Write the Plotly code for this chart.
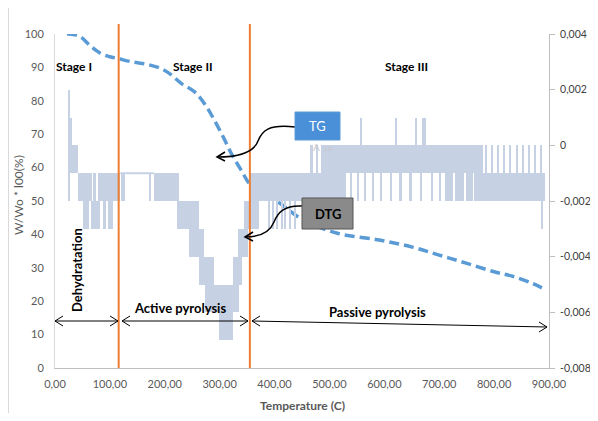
import plotly.graph_objects as go

# ---------------- data ----------------
# TG curve (temperature in C, residual mass W/Wo*100 in %)
tg_T = [22, 30, 45, 64, 82, 100, 116, 142, 165, 191, 210, 230, 255, 275, 291, 307, 322,
        340, 355, 380, 409, 450, 513, 591, 651, 700, 749, 800, 833, 870, 894]
tg_W = [100, 99.9, 99.3, 96.5, 94.3, 93.2, 92.6, 91.6, 91, 89.8, 88, 85.2, 82.6, 78.5, 74,
        69, 64, 59, 55, 52, 49.4, 44.5, 40.4, 38.3, 36.2, 33.8, 31.4, 28.8, 27.5, 25.3, 23.4]

# DTG bands (the noisy DTG signal oscillates between two quantised levels)
band_T0 = [24, 27, 42, 70, 78, 51, 66, 87, 97, 121,
           180, 222, 245, 262, 273, 298, 318, 325, 333, 345,
           356, 356, 464, 475, 485, 455, 710, 729, 749, 764, 782]
band_T1 = [42, 31, 67, 75, 119, 62, 82, 93, 106, 128,
           225, 262, 272, 290, 318, 325, 336, 340, 352, 356,
           372, 455, 470, 480, 780, 530, 726, 746, 761, 782, 893]
band_lo = [-0.001, 0.000, -0.002, -0.002, -0.002, -0.003, -0.003, -0.003, -0.003, -0.002,
           -0.002, -0.003, -0.004, -0.005, -0.006, -0.007, -0.006, -0.005, -0.004, -0.003,
           -0.003, -0.002, -0.001, -0.001, -0.001, -0.002, -0.002, -0.002, -0.002, -0.002, -0.002]
band_hi = [0.000, 0.001, -0.001, -0.001, -0.001, -0.002, -0.002, -0.002, -0.002, -0.001,
           -0.001, -0.002, -0.003, -0.004, -0.005, -0.006, -0.005, -0.004, -0.003, -0.002,
           -0.002, -0.001, 0.000, 0.000, 0.000, -0.001, -0.001, -0.001, -0.001, -0.001, -0.001]

# DTG single excursions (narrow spikes)
spike_T = [26, 125, 173, 390, 398, 405, 413, 420, 428, 437,
           540, 553, 566, 580, 595, 612, 630, 648, 668, 688, 702,
           785, 796, 807, 818, 829, 841, 852, 863, 874, 885,
           558, 622, 658, 670, 675, 888]
spike_lo = [-0.002, -0.002, -0.002, -0.003, -0.003, -0.003, -0.003, -0.003, -0.003, -0.003,
            -0.002, -0.002, -0.002, -0.002, -0.002, -0.002, -0.002, -0.002, -0.002, -0.002, -0.002,
            -0.001, -0.001, -0.001, -0.001, -0.001, -0.001, -0.001, -0.001, -0.001, -0.001,
            0.000, 0.000, 0.000, 0.000, 0.000, -0.003]
spike_hi = [0.002, -0.001, -0.001, -0.002, -0.002, -0.002, -0.002, -0.002, -0.002, -0.002,
            -0.001, -0.001, -0.001, -0.001, -0.001, -0.001, -0.001, -0.001, -0.001, -0.001, -0.001,
            0.000, 0.000, 0.000, 0.000, 0.000, 0.000, 0.000, 0.000, 0.000, 0.000,
            0.001, 0.001, 0.001, 0.001, 0.001, -0.001]
spike_w = [2.5, 2, 2, 2, 2, 2, 2, 2, 2, 2,
           3, 3, 3, 3, 3, 3, 3, 3, 3, 3, 3,
           4, 4, 4, 4, 4, 4, 4, 4, 4, 4,
           2, 2, 2, 2, 2, 2]

# DTG line resting on one level
rest_T = [119, 180]
rest_v = [-0.001, -0.001]

stage_limits = [116, 355]

x_ticks = [0, 100, 200, 300, 400, 500, 600, 700, 800, 900]
x_ticktext = ["0,00", "100,00", "200,00", "300,00", "400,00", "500,00",
              "600,00", "700,00", "800,00", "900,00"]
y_ticks = [0, 10, 20, 30, 40, 50, 60, 70, 80, 90, 100]
y2_ticks = [-0.008, -0.006, -0.004, -0.002, 0, 0.002, 0.004]
y2_ticktext = ["-0,008", "-0,006", "-0,004", "-0,002", "0", "0,002", "0,004"]

# ---------------- figure ----------------
OFF = 8                      # page body margin (figure kept inside the viewport)
W, H = 598 - 2 * OFF, 421 - 2 * OFF
PL, PR, PT, PB = 55, 549, 34, 368   # plot area in page pixels
ML, MT = PL - OFF, PT - OFF
MR, MB = W - (PR - OFF), H - (PB - OFF)
PW, PH = PR - PL, PB - PT
XR = [0, 900]
YR = [0, 100]

def px(x):  # page pixel -> data x (decorations only)
    return XR[0] + (x - PL) / PW * (XR[1] - XR[0])

def py(y):  # page pixel -> data y (decorations only)
    return YR[0] + (PB - y) / PH * (YR[1] - YR[0])

def ppx(x):  # page pixel -> paper x
    return (x - PL) / PW

def ppy(y):  # page pixel -> paper y
    return (PB - y) / PH

DTG_COL = "#c7d1e4"
fig = go.Figure()

fig.add_trace(go.Bar(
    x=[(a + b) / 2 for a, b in zip(band_T0, band_T1)],
    width=[b - a for a, b in zip(band_T0, band_T1)],
    base=band_lo,
    y=[h - l for l, h in zip(band_lo, band_hi)],
    yaxis="y2", marker=dict(color=DTG_COL, line=dict(width=0)),
    showlegend=False, hoverinfo="skip"))

fig.add_trace(go.Bar(
    x=spike_T, width=spike_w, base=spike_lo,
    y=[h - l for l, h in zip(spike_lo, spike_hi)],
    yaxis="y2", marker=dict(color=DTG_COL, line=dict(width=0)),
    showlegend=False, hoverinfo="skip"))

fig.add_trace(go.Scatter(
    x=rest_T, y=rest_v, yaxis="y2", mode="lines",
    line=dict(color=DTG_COL, width=2), showlegend=False, hoverinfo="skip"))

fig.add_trace(go.Scatter(
    x=tg_T, y=tg_W, mode="lines", line_shape="spline",
    line=dict(color="#5b9bd5", width=3.5, dash="10px,5px"),
    showlegend=False, hoverinfo="skip"))

shapes = []
# stage boundaries
for t in stage_limits:
    shapes.append(dict(type="line", xref="x", yref="paper", x0=t, x1=t,
                       y0=0, y1=ppy(24), line=dict(color="#ed7d31", width=2)))

ARROW = dict(color="#000000", width=1)

def chevron(xp, yp, direction):
    d = 8 * direction
    return dict(type="path", xref="x", yref="y",
                path=f"M {px(xp - d)},{py(yp - 5)} L {px(xp)},{py(yp)} L {px(xp - d)},{py(yp + 5)}",
                line=ARROW)

# range arrows
for (x0, y0, x1, y1) in [(55, 321, 118, 321), (122, 321, 248, 321), (252, 321, 547, 327)]:
    shapes.append(dict(type="line", xref="x", yref="y", x0=px(x0), y0=py(y0),
                       x1=px(x1), y1=py(y1), line=ARROW))
    shapes.append(chevron(x0, y0, -1))
    shapes.append(chevron(x1, y1, 1))

# curved callout arrows
def curve(pts):
    (a, b), rest = pts[0], pts[1:]
    s = f"M {px(a)},{py(b)}"
    for i in range(0, len(rest), 3):
        s += " C " + " ".join(f"{px(x)},{py(y)}" for x, y in rest[i:i + 3])
    return s

CURVE = dict(color="#000", width=1.5)
shapes.append(dict(type="path", xref="x", yref="y", line=CURVE,
                   path=curve([(295, 127), (268, 124), (262, 131), (258, 141),
                               (254, 152), (240, 157), (217, 157)])))
shapes.append(dict(type="path", xref="x", yref="y", line=CURVE,
                   path=f"M {px(225)},{py(152)} L {px(217)},{py(157)} L {px(225)},{py(161)}"))
shapes.append(dict(type="path", xref="x", yref="y", line=CURVE,
                   path=curve([(302, 206), (285, 205), (278, 212), (274, 222),
                               (270, 232), (260, 237), (245, 237)])))
shapes.append(dict(type="path", xref="x", yref="y", line=CURVE,
                   path=f"M {px(253)},{py(232)} L {px(245)},{py(237)} L {px(253)},{py(241)}"))

# callout boxes
shapes.append(dict(type="rect", xref="x", yref="y", x0=px(295), x1=px(340), y0=py(140), y1=py(112),
                   fillcolor="#4a90d9", line=dict(color="#5b9bd5", width=1)))
shapes.append(dict(type="rect", xref="x", yref="y", x0=px(302), x1=px(353), y0=py(229), y1=py(198),
                   fillcolor="#8a8a8a", line=dict(color="#555555", width=1)))

# chart border on the left
shapes.append(dict(type="line", xref="paper", yref="paper", x0=ppx(8.5), x1=ppx(8.5),
                   y0=ppy(430), y1=ppy(-10), line=dict(color="#d9d9d9", width=1)))

FONT = "Lato, 'Open Sans', sans-serif"
ann = []
def text(xp, yp, s, size=12, bold=True, color="#000", angle=0):
    ann.append(dict(xref="x", yref="y", x=px(xp), y=py(yp), text=f"<b>{s}</b>" if bold else s,
                    showarrow=False, textangle=angle, xanchor="center", yanchor="middle",
                    font=dict(family=FONT, size=size, color=color)))

text(74, 66, "Stage I")
text(193, 66, "Stage II")
text(406, 66, "Stage III")
text(77, 270, "Dehydratation", size=13, angle=-90)
text(180, 308, "Active pyrolysis", size=13)
text(377, 312, "Passive pyrolysis", size=13)
text(317.5, 126, "TG", size=13, bold=False, color="#ffffff")
text(327.5, 214, "DTG", size=13)
text(322, 147, "A  <span style='font-size:7px'>cn</span>", size=10, bold=False, color="#c8c8c8")

# axis titles
ann.append(dict(xref="paper", yref="paper", x=ppx(302), y=ppy(406), text="<b>Temperature (C)</b>",
                xanchor="center", yanchor="middle", showarrow=False,
                font=dict(family=FONT, size=12, color="#595959")))
ann.append(dict(xref="paper", yref="paper", x=ppx(18), y=ppy(195),
                text="W/Wo * l00(%)", textangle=-90, xanchor="center", yanchor="middle",
                showarrow=False, font=dict(family=FONT, size=12, color="#595959")))

fig.update_layout(
    width=W, height=H, margin=dict(l=ML, r=MR, t=MT, b=MB, autoexpand=False),
    paper_bgcolor="white", plot_bgcolor="white",
    barmode="overlay", bargap=0, showlegend=False,
    shapes=shapes, annotations=ann,
    font=dict(family=FONT, color="#595959"),
    xaxis=dict(range=XR, tickvals=x_ticks, ticktext=x_ticktext, showgrid=False, zeroline=False,
               showline=True, linecolor="#bfbfbf", linewidth=1, ticks="", ticklabelstandoff=6,
               tickfont=dict(family=FONT, size=11, color="#595959")),
    yaxis=dict(range=YR, tickvals=y_ticks, showgrid=False, zeroline=False,
               showline=True, linecolor="#d9d9d9", ticks="", ticklabelstandoff=8,
               tickfont=dict(family=FONT, size=11, color="#595959")),
    yaxis2=dict(range=[-0.008, 0.004], overlaying="y", side="right", tickvals=y2_ticks,
                ticktext=y2_ticktext, showgrid=False, zeroline=False, showline=True,
                linecolor="#bfbfbf", ticks="outside", ticklen=5, tickcolor="#bfbfbf",
                ticklabelstandoff=3,
                tickfont=dict(family=FONT, size=10.5, color="#404040")),
)

fig.write_html("out.html")
